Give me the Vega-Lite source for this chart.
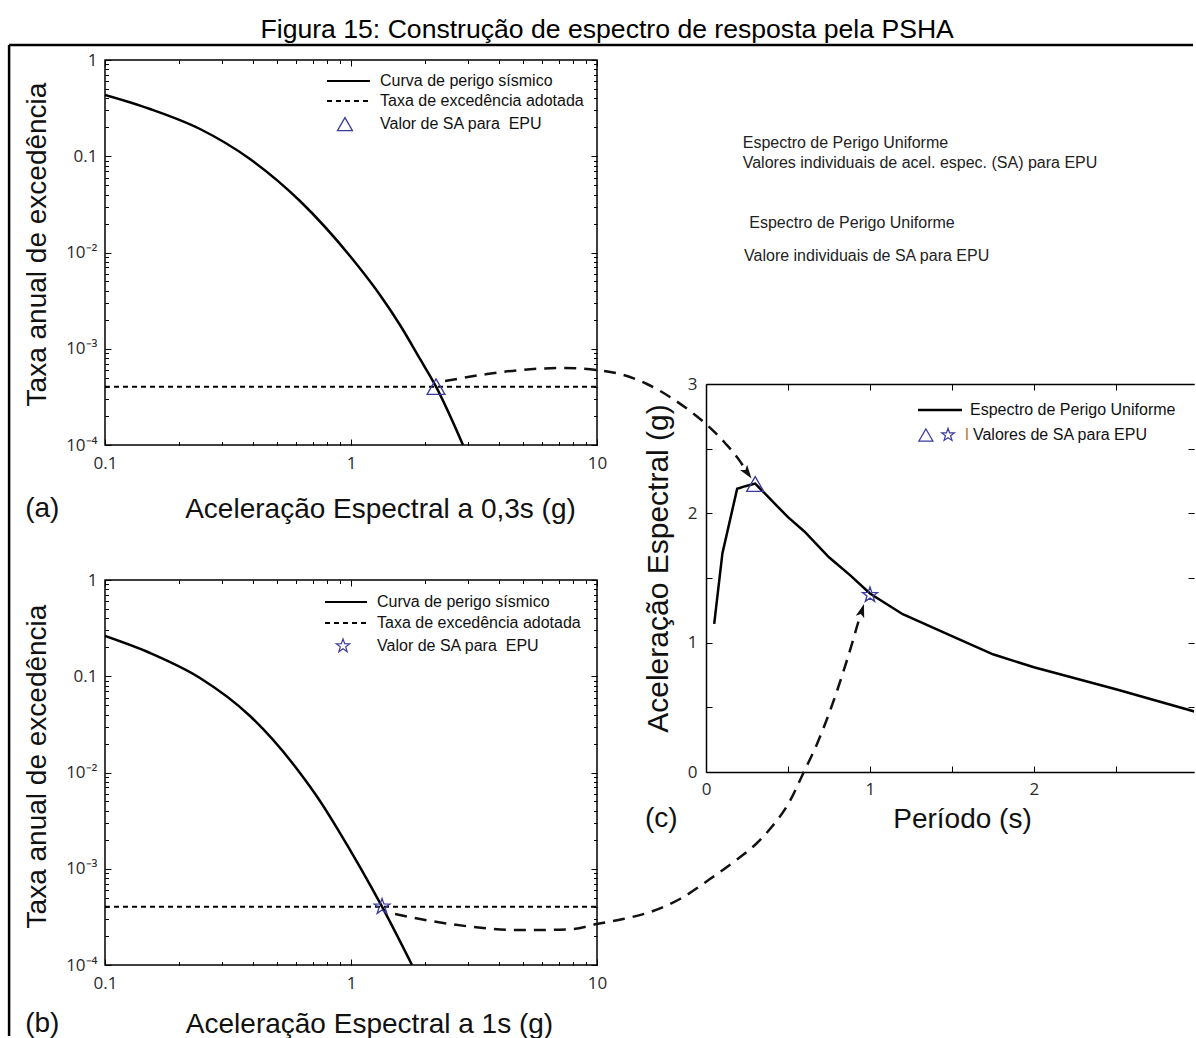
{
  "$schema": "https://vega.github.io/schema/vega-lite/v6.json",
  "padding": {"left": 7, "top": 17, "right": 0, "bottom": 0},
  "title": {"text": "Figura 15: Construção de espectro de resposta pela PSHA", "anchor": "middle", "frame": "bounds", "dx": 6, "font": "Liberation Sans", "fontSize": 26.6, "fontWeight": "normal", "color": "#000", "offset": 0},
  "config": {
    "view": {"stroke": "#000", "strokeWidth": 1.5},
    "axis": {"domain": false, "grid": false, "tickColor": "#000", "tickWidth": 1, "domainColor": "#000", "domainWidth": 1.5, "labelFont": "Open Sans", "labelFontSize": 17, "labelColor": "#2a2a2a", "titleFont": "Liberation Sans", "titleFontSize": 28, "titleFontWeight": "normal", "titleColor": "#111", "labelOverlap": false, "labelFlush": false},
    "text": {"font": "Liberation Sans"}
  },
  "bounds": "flush",
  "spacing": 601,
  "hconcat": [
    {
      "bounds": "flush",
      "spacing": 135,
      "vconcat": [
        {
          "width": 492, "height": 385,
          "encoding": {
            "x": {"field": "x", "type": "quantitative", "scale": {"type": "log", "domain": [0.1, 10], "nice": false}, "axis": null},
            "y": {"field": "y", "type": "quantitative", "scale": {"type": "log", "domain": [0.0001, 1], "nice": false}, "axis": null}
          },
          "resolve": {"axis": {"x": "independent", "y": "independent"}},
          "layer": [
            {
              "data": {"values": [
                {"x": 0.1, "y": 0.4328}, {"x": 0.1524, "y": 0.3097}, {"x": 0.2433, "y": 0.1919}, {"x": 0.3885, "y": 0.0936},
                {"x": 0.6204, "y": 0.03427}, {"x": 0.9906, "y": 0.009197}, {"x": 1.312, "y": 0.003618}, {"x": 1.582, "y": 0.001765},
                {"x": 1.908, "y": 0.000783}, {"x": 2.216, "y": 0.000404}, {"x": 2.853, "y": 0.0001}
              ]},
              "mark": {"type": "line", "color": "#000", "strokeWidth": 2.5, "clip": true, "interpolate": "monotone"},
              "encoding": {
                "x": {"field": "x", "type": "quantitative", "scale": {"type": "log", "domain": [0.1, 10], "nice": false},
                  "axis": {"orient": "bottom", "values": [0.1,0.2,0.3,0.4,0.5,0.6,0.7,0.8,0.9,1,2,3,4,5,6,7,8,9,10],
                    "labelExpr": "abs(log(datum.value)/LN10 - round(log(datum.value)/LN10)) < 0.001 ? (datum.value < 0.5 ? '0.1' : datum.value < 5 ? '1' : '10') : ''",
                    "tickSize": {"condition": {"test": "abs(log(datum.value)/LN10 - round(log(datum.value)/LN10)) < 0.001", "value": -6}, "value": -3.5},
                    "labelPadding": 16, "title": "Aceleração Espectral a 0,3s (g)", "titleX": 275, "titleY": 72, "titleBaseline": "alphabetic", "titleAlign": "center"}},
                "y": {"field": "y", "type": "quantitative", "scale": {"type": "log", "domain": [0.0001, 1], "nice": false},
                  "axis": {"orient": "left", "values": [0.0001,0.0002,0.0003,0.0004,0.0005,0.0006,0.0007,0.0008,0.0009,0.001,0.002,0.003,0.004,0.005,0.006,0.007,0.008,0.009,0.01,0.02,0.03,0.04,0.05,0.06,0.07,0.08,0.09,0.1,0.2,0.3,0.4,0.5,0.6,0.7,0.8,0.9,1],
                    "labelExpr": "abs(log(datum.value)/LN10 - round(log(datum.value)/LN10)) < 0.001 ? (round(log(datum.value)/LN10) == 0 ? '1' : round(log(datum.value)/LN10) == -1 ? '0.1' : round(log(datum.value)/LN10) == -2 ? '10⁻²' : round(log(datum.value)/LN10) == -3 ? '10⁻³' : '10⁻⁴') : ''",
                    "tickSize": {"condition": {"test": "abs(log(datum.value)/LN10 - round(log(datum.value)/LN10)) < 0.001", "value": -6}, "value": -3.5},
                    "labelPadding": 14, "title": "Taxa anual de excedência", "titleAngle": 270, "titleX": -60, "titleY": 184, "titleBaseline": "alphabetic", "titleAlign": "center"}}
              }
            },
            {
              "data": {"values": [{"x": 0.1, "x2": 10, "y": 0.000404}]},
              "mark": {"type": "rule", "color": "#000", "strokeWidth": 2, "strokeDash": [5, 4]},
              "encoding": {"x2": {"field": "x2"}}
            },
            {
              "data": {"values": [{"x": 2.216, "y": 0.000404}]},
              "mark": {"type": "point", "shape": "triangle-up", "size": 320, "filled": false, "color": "#3b3b9e", "strokeWidth": 1.3, "opacity": 1},
              "encoding": {
                "x": {"field": "x", "type": "quantitative", "scale": {"type": "log", "domain": [0.1, 10], "nice": false},
                  "axis": {"orient": "top", "values": [0.1,0.2,0.3,0.4,0.5,0.6,0.7,0.8,0.9,1,2,3,4,5,6,7,8,9,10], "labels": false, "title": null,
                    "tickSize": {"condition": {"test": "abs(log(datum.value)/LN10 - round(log(datum.value)/LN10)) < 0.001", "value": -6}, "value": -3.5}}},
                "y": {"field": "y", "type": "quantitative", "scale": {"type": "log", "domain": [0.0001, 1], "nice": false},
                  "axis": {"orient": "right", "values": [0.0001,0.0002,0.0003,0.0004,0.0005,0.0006,0.0007,0.0008,0.0009,0.001,0.002,0.003,0.004,0.005,0.006,0.007,0.008,0.009,0.01,0.02,0.03,0.04,0.05,0.06,0.07,0.08,0.09,0.1,0.2,0.3,0.4,0.5,0.6,0.7,0.8,0.9,1], "labels": false, "title": null,
                    "tickSize": {"condition": {"test": "abs(log(datum.value)/LN10 - round(log(datum.value)/LN10)) < 0.001", "value": -6}, "value": -3.5}}}
              }
            },
            {
              "data": {"values": [{"x": 0.7988, "x2": 1.195, "y": 0.605, "k": "s"}, {"x": 0.7988, "x2": 1.195, "y": 0.375, "k": "d"}]},
              "mark": {"type": "rule", "color": "#000", "strokeWidth": 2},
              "encoding": {"x2": {"field": "x2"}, "strokeDash": {"field": "k", "type": "nominal", "scale": {"domain": ["s", "d"], "range": [[1, 0], [5, 4]]}, "legend": null}}
            },
            {
              "data": {"values": [{"x": 1.312, "y": 0.605, "t": "Curva de perigo sísmico"}, {"x": 1.312, "y": 0.375, "t": "Taxa de excedência adotada"}, {"x": 1.312, "y": 0.216, "t": "Valor de SA para\u00a0 EPU"}]},
              "mark": {"type": "text", "align": "left", "baseline": "middle", "fontSize": 16, "color": "#111"},
              "encoding": {"text": {"field": "t"}}
            },
            {
              "data": {"values": [{"x": 0.945, "y": 0.216}]},
              "mark": {"type": "point", "shape": "triangle-up", "size": 225, "filled": false, "color": "#3b3b9e", "strokeWidth": 1.3, "opacity": 1}
            }
          ]
        },
        {
          "width": 492, "height": 385,
          "encoding": {
            "x": {"field": "x", "type": "quantitative", "scale": {"type": "log", "domain": [0.1, 10], "nice": false}, "axis": null},
            "y": {"field": "y", "type": "quantitative", "scale": {"type": "log", "domain": [0.0001, 1], "nice": false}, "axis": null}
          },
          "resolve": {"axis": {"x": "independent", "y": "independent"}},
          "layer": [
            {
              "data": {"values": [
                {"x": 0.1, "y": 0.262}, {"x": 0.1524, "y": 0.1744}, {"x": 0.2433, "y": 0.0959}, {"x": 0.3885, "y": 0.03864},
                {"x": 0.6204, "y": 0.00989}, {"x": 0.748, "y": 0.00506}, {"x": 0.9023, "y": 0.00235}, {"x": 1.088, "y": 0.001042},
                {"x": 1.337, "y": 0.000404}, {"x": 1.77, "y": 0.0001}
              ]},
              "mark": {"type": "line", "color": "#000", "strokeWidth": 2.5, "clip": true, "interpolate": "monotone"},
              "encoding": {
                "x": {"field": "x", "type": "quantitative", "scale": {"type": "log", "domain": [0.1, 10], "nice": false},
                  "axis": {"orient": "bottom", "values": [0.1,0.2,0.3,0.4,0.5,0.6,0.7,0.8,0.9,1,2,3,4,5,6,7,8,9,10],
                    "labelExpr": "abs(log(datum.value)/LN10 - round(log(datum.value)/LN10)) < 0.001 ? (datum.value < 0.5 ? '0.1' : datum.value < 5 ? '1' : '10') : ''",
                    "tickSize": {"condition": {"test": "abs(log(datum.value)/LN10 - round(log(datum.value)/LN10)) < 0.001", "value": -6}, "value": -3.5},
                    "labelPadding": 16, "title": "Aceleração Espectral a 1s (g)", "titleX": 264, "titleY": 67, "titleBaseline": "alphabetic", "titleAlign": "center"}},
                "y": {"field": "y", "type": "quantitative", "scale": {"type": "log", "domain": [0.0001, 1], "nice": false},
                  "axis": {"orient": "left", "values": [0.0001,0.0002,0.0003,0.0004,0.0005,0.0006,0.0007,0.0008,0.0009,0.001,0.002,0.003,0.004,0.005,0.006,0.007,0.008,0.009,0.01,0.02,0.03,0.04,0.05,0.06,0.07,0.08,0.09,0.1,0.2,0.3,0.4,0.5,0.6,0.7,0.8,0.9,1],
                    "labelExpr": "abs(log(datum.value)/LN10 - round(log(datum.value)/LN10)) < 0.001 ? (round(log(datum.value)/LN10) == 0 ? '1' : round(log(datum.value)/LN10) == -1 ? '0.1' : round(log(datum.value)/LN10) == -2 ? '10⁻²' : round(log(datum.value)/LN10) == -3 ? '10⁻³' : '10⁻⁴') : ''",
                    "tickSize": {"condition": {"test": "abs(log(datum.value)/LN10 - round(log(datum.value)/LN10)) < 0.001", "value": -6}, "value": -3.5},
                    "labelPadding": 14, "title": "Taxa anual de excedência", "titleAngle": 270, "titleX": -60, "titleY": 186, "titleBaseline": "alphabetic", "titleAlign": "center"}}
              }
            },
            {
              "data": {"values": [{"x": 0.1, "x2": 10, "y": 0.000404}]},
              "mark": {"type": "rule", "color": "#000", "strokeWidth": 2, "strokeDash": [5, 4]},
              "encoding": {"x2": {"field": "x2"}}
            },
            {
              "data": {"values": [{"x": 1.337, "y": 0.000404}]},
              "mark": {"type": "point", "shape": "M0,-1L0.235,-0.324L0.951,-0.309L0.380,0.124L0.588,0.809L0,0.4L-0.588,0.809L-0.380,0.124L-0.951,-0.309L-0.235,-0.324Z", "size": 270, "filled": false, "color": "#3b3b9e", "strokeWidth": 1.3, "opacity": 1},
              "encoding": {
                "x": {"field": "x", "type": "quantitative", "scale": {"type": "log", "domain": [0.1, 10], "nice": false},
                  "axis": {"orient": "top", "values": [0.1,0.2,0.3,0.4,0.5,0.6,0.7,0.8,0.9,1,2,3,4,5,6,7,8,9,10], "labels": false, "title": null,
                    "tickSize": {"condition": {"test": "abs(log(datum.value)/LN10 - round(log(datum.value)/LN10)) < 0.001", "value": -6}, "value": -3.5}}},
                "y": {"field": "y", "type": "quantitative", "scale": {"type": "log", "domain": [0.0001, 1], "nice": false},
                  "axis": {"orient": "right", "values": [0.0001,0.0002,0.0003,0.0004,0.0005,0.0006,0.0007,0.0008,0.0009,0.001,0.002,0.003,0.004,0.005,0.006,0.007,0.008,0.009,0.01,0.02,0.03,0.04,0.05,0.06,0.07,0.08,0.09,0.1,0.2,0.3,0.4,0.5,0.6,0.7,0.8,0.9,1], "labels": false, "title": null,
                    "tickSize": {"condition": {"test": "abs(log(datum.value)/LN10 - round(log(datum.value)/LN10)) < 0.001", "value": -6}, "value": -3.5}}}
              }
            },
            {
              "data": {"values": [{"x": 0.784, "x2": 1.161, "y": 0.591, "k": "s"}, {"x": 0.784, "x2": 1.161, "y": 0.3574, "k": "d"}]},
              "mark": {"type": "rule", "color": "#000", "strokeWidth": 2},
              "encoding": {"x2": {"field": "x2"}, "strokeDash": {"field": "k", "type": "nominal", "scale": {"domain": ["s", "d"], "range": [[1, 0], [5, 4]]}, "legend": null}}
            },
            {
              "data": {"values": [{"x": 1.276, "y": 0.591, "t": "Curva de perigo sísmico"}, {"x": 1.276, "y": 0.3574, "t": "Taxa de excedência adotada"}, {"x": 1.276, "y": 0.2062, "t": "Valor de SA para\u00a0 EPU"}]},
              "mark": {"type": "text", "align": "left", "baseline": "middle", "fontSize": 16, "color": "#111"},
              "encoding": {"text": {"field": "t"}}
            },
            {
              "data": {"values": [{"x": 0.928, "y": 0.2062}]},
              "mark": {"type": "point", "shape": "M0,-1L0.235,-0.324L0.951,-0.309L0.380,0.124L0.588,0.809L0,0.4L-0.588,0.809L-0.380,0.124L-0.951,-0.309L-0.235,-0.324Z", "size": 200, "filled": false, "color": "#3b3b9e", "strokeWidth": 1.2, "opacity": 1}
            }
          ]
        }
      ]
    },
    {
      "bounds": "flush",
      "spacing": 0,
      "vconcat": [
        {
          "width": 488, "height": 324,
          "view": {"stroke": null},
          "data": {"values": [{}]},
          "mark": {"type": "text", "text": ""}
        },
        {
          "width": 488, "height": 388,
          "view": {"stroke": null},
          "encoding": {
            "x": {"field": "x", "type": "quantitative", "scale": {"domain": [0, 2.976], "nice": false, "zero": false}, "axis": null},
            "y": {"field": "y", "type": "quantitative", "scale": {"domain": [0, 3], "nice": false, "zero": false}, "axis": null}
          },
          "resolve": {"axis": {"x": "independent", "y": "independent"}},
          "layer": [
            {
              "data": {"values": [
                {"x": 0.05, "y": 1.145}, {"x": 0.1, "y": 1.69}, {"x": 0.19, "y": 2.19}, {"x": 0.24, "y": 2.21}, {"x": 0.3, "y": 2.23},
                {"x": 0.4, "y": 2.1}, {"x": 0.5, "y": 1.97}, {"x": 0.6, "y": 1.86}, {"x": 0.75, "y": 1.66}, {"x": 0.88, "y": 1.52},
                {"x": 1.0, "y": 1.38}, {"x": 1.2, "y": 1.22}, {"x": 1.5, "y": 1.05}, {"x": 1.75, "y": 0.91}, {"x": 2.0, "y": 0.81},
                {"x": 2.5, "y": 0.64}, {"x": 3.0, "y": 0.46}
              ]},
              "mark": {"type": "line", "color": "#000", "strokeWidth": 2.5, "clip": true},
              "encoding": {
                "x": {"field": "x", "type": "quantitative", "scale": {"domain": [0, 2.976], "nice": false, "zero": false},
                  "axis": {"orient": "bottom", "domain": true, "values": [0, 0.5, 1, 1.5, 2, 2.5], "labelExpr": "datum.value % 1 == 0 ? format(datum.value, 'd') : ''",
                    "tickSize": -6, "labelPadding": 15, "title": "Período (s)", "titleX": 256, "titleY": 55, "titleBaseline": "alphabetic", "titleAlign": "center"}},
                "y": {"field": "y", "type": "quantitative", "scale": {"domain": [0, 3], "nice": false, "zero": false},
                  "axis": {"orient": "left", "domain": true, "values": [0, 0.5, 1, 1.5, 2, 2.5, 3], "labelExpr": "datum.value % 1 == 0 ? format(datum.value, 'd') : ''",
                    "tickSize": -6, "labelPadding": 15, "title": "Aceleração Espectral (g)", "titleFontSize": 30, "titleAngle": 270, "titleX": -39, "titleY": 184, "titleBaseline": "alphabetic", "titleAlign": "center"}}
              }
            },
            {
              "data": {"values": [{"x": 0.3, "y": 2.227}]},
              "mark": {"type": "point", "shape": "triangle-up", "size": 290, "filled": false, "color": "#3b3b9e", "strokeWidth": 1.3, "opacity": 1},
              "encoding": {
                "x": {"field": "x", "type": "quantitative", "scale": {"domain": [0, 2.976], "nice": false, "zero": false},
                  "axis": {"orient": "top", "domain": true, "values": [0, 0.5, 1, 1.5, 2, 2.5], "labels": false, "tickSize": -6, "title": null}},
                "y": {"field": "y", "type": "quantitative", "scale": {"domain": [0, 3], "nice": false, "zero": false},
                  "axis": {"orient": "right", "domain": false, "values": [0, 0.5, 1, 1.5, 2, 2.5, 3], "labels": false, "tickSize": -6, "title": null}}
              }
            },
            {
              "data": {"values": [{"x": 1.0, "y": 1.369}]},
              "mark": {"type": "point", "shape": "M0,-1L0.235,-0.324L0.951,-0.309L0.380,0.124L0.588,0.809L0,0.4L-0.588,0.809L-0.380,0.124L-0.951,-0.309L-0.235,-0.324Z", "size": 250, "filled": false, "color": "#3b3b9e", "strokeWidth": 1.3, "opacity": 1}
            },
            {
              "data": {"values": [{"x": 1.293, "x2": 1.561, "y": 2.799}]},
              "mark": {"type": "rule", "color": "#000", "strokeWidth": 2.5},
              "encoding": {"x2": {"field": "x2"}}
            },
            {
              "data": {"values": [{"x": 1.610, "y": 2.799, "t": "Espectro de Perigo Uniforme"}, {"x": 1.628, "y": 2.606, "t": "Valores de SA para EPU"}]},
              "mark": {"type": "text", "align": "left", "baseline": "middle", "fontSize": 16, "color": "#111"},
              "encoding": {"text": {"field": "t"}}
            },
            {
              "data": {"values": [{"x": 1.591, "y": 2.606, "t": "I"}]},
              "mark": {"type": "text", "align": "center", "baseline": "middle", "fontSize": 16, "color": "#c8782a"},
              "encoding": {"text": {"field": "t"}}
            },
            {
              "data": {"values": [{"x": 1.341, "y": 2.606}]},
              "mark": {"type": "point", "shape": "triangle-up", "size": 200, "filled": false, "color": "#3b3b9e", "strokeWidth": 1.2, "opacity": 1}
            },
            {
              "data": {"values": [{"x": 1.476, "y": 2.606}]},
              "mark": {"type": "point", "shape": "M0,-1L0.235,-0.324L0.951,-0.309L0.380,0.124L0.588,0.809L0,0.4L-0.588,0.809L-0.380,0.124L-0.951,-0.309L-0.235,-0.324Z", "size": 180, "filled": false, "color": "#3b3b9e", "strokeWidth": 1.2, "opacity": 1}
            },
            {
              "data": {"values": [
                {"a": 1, "i": 1, "x": -1.591, "y": 3.023}, {"a": 1, "i": 2, "x": -1.335, "y": 3.077}, {"a": 1, "i": 3, "x": -1.134, "y": 3.108},
                {"a": 1, "i": 4, "x": -0.872, "y": 3.124}, {"a": 1, "i": 5, "x": -0.665, "y": 3.108}, {"a": 1, "i": 6, "x": -0.524, "y": 3.077},
                {"a": 1, "i": 7, "x": -0.360, "y": 3.000}, {"a": 1, "i": 8, "x": -0.220, "y": 2.900}, {"a": 1, "i": 9, "x": -0.098, "y": 2.792},
                {"a": 1, "i": 10, "x": 0.0, "y": 2.691}, {"a": 1, "i": 11, "x": 0.116, "y": 2.544}, {"a": 1, "i": 12, "x": 0.207, "y": 2.404},
                {"a": 1, "i": 13, "x": 0.249, "y": 2.320},
                {"a": 2, "i": 1, "x": -1.896, "y": -1.098}, {"a": 2, "i": 2, "x": -1.744, "y": -1.137}, {"a": 2, "i": 3, "x": -1.561, "y": -1.175},
                {"a": 2, "i": 4, "x": -1.360, "y": -1.206}, {"a": 2, "i": 5, "x": -1.152, "y": -1.222}, {"a": 2, "i": 6, "x": -1.012, "y": -1.222},
                {"a": 2, "i": 7, "x": -0.811, "y": -1.214}, {"a": 2, "i": 8, "x": -0.665, "y": -1.175}, {"a": 2, "i": 9, "x": -0.506, "y": -1.137},
                {"a": 2, "i": 10, "x": -0.323, "y": -1.075}, {"a": 2, "i": 11, "x": -0.159, "y": -0.982}, {"a": 2, "i": 12, "x": 0.024, "y": -0.828},
                {"a": 2, "i": 13, "x": 0.177, "y": -0.688}, {"a": 2, "i": 14, "x": 0.311, "y": -0.549}, {"a": 2, "i": 15, "x": 0.390, "y": -0.441},
                {"a": 2, "i": 16, "x": 0.512, "y": -0.224}, {"a": 2, "i": 17, "x": 0.591, "y": -0.015}, {"a": 2, "i": 18, "x": 0.677, "y": 0.217},
                {"a": 2, "i": 19, "x": 0.756, "y": 0.472}, {"a": 2, "i": 20, "x": 0.829, "y": 0.742}, {"a": 2, "i": 21, "x": 0.890, "y": 0.990},
                {"a": 2, "i": 22, "x": 0.927, "y": 1.152}, {"a": 2, "i": 23, "x": 0.949, "y": 1.240}
              ]},
              "mark": {"type": "line", "color": "#111", "strokeWidth": 2.5, "strokeDash": [12, 8], "clip": false, "interpolate": "monotone"},
              "encoding": {"detail": {"field": "a", "type": "nominal"}, "order": {"field": "i", "type": "quantitative"}}
            },
            {
              "data": {"values": [{"x": 0.249, "y": 2.320}]},
              "mark": {"type": "point", "shape": "M0,-1L0.55,0.7L0,0.3L-0.55,0.7Z", "size": 256, "filled": true, "color": "#111", "opacity": 1, "angle": 144, "clip": false}
            },
            {
              "data": {"values": [{"x": 0.949, "y": 1.240}]},
              "mark": {"type": "point", "shape": "M0,-1L0.55,0.7L0,0.3L-0.55,0.7Z", "size": 256, "filled": true, "color": "#111", "opacity": 1, "angle": 17, "clip": false}
            },
            {
              "data": {"values": [
                {"x": 0.224, "y": 4.866, "t": "Espectro de Perigo Uniforme"},
                {"x": 0.224, "y": 4.711, "t": "Valores individuais de acel. espec. (SA) para EPU"},
                {"x": 0.264, "y": 4.247, "t": "Espectro de Perigo Uniforme"},
                {"x": 0.232, "y": 3.990, "t": "Valore individuais de SA para EPU"}
              ]},
              "mark": {"type": "text", "align": "left", "baseline": "middle", "fontSize": 16, "color": "#222", "clip": false},
              "encoding": {"text": {"field": "t"}}
            },
            {
              "data": {"values": [
                {"x": -4.152, "y": 1.972, "t": "(a)"},
                {"x": -4.152, "y": -2.010, "t": "(b)"},
                {"x": -0.372, "y": -0.425, "t": "(c)"}
              ]},
              "mark": {"type": "text", "align": "left", "baseline": "alphabetic", "fontSize": 28, "color": "#111", "clip": false},
              "encoding": {"text": {"field": "t"}}
            },
            {
              "data": {"values": [{"x": -4.25, "x2": 2.970, "y": 5.621}]},
              "mark": {"type": "rule", "color": "#000", "strokeWidth": 2.5, "clip": false},
              "encoding": {"x2": {"field": "x2"}}
            },
            {
              "data": {"values": [{"x": -4.25, "y": 5.621, "y2": -2.041}]},
              "mark": {"type": "rule", "color": "#000", "strokeWidth": 2.5, "clip": false},
              "encoding": {"y2": {"field": "y2"}}
            }
          ]
        }
      ]
    }
  ]
}
